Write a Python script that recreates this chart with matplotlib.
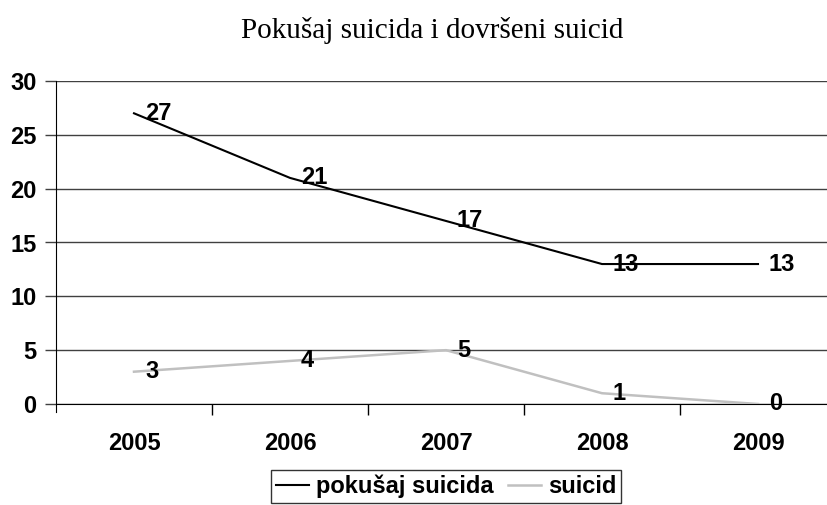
import matplotlib
matplotlib.use("Agg")
import matplotlib.pyplot as plt

years = ["2005", "2006", "2007", "2008", "2009"]
attempts = [27, 21, 17, 13, 13]
suicides = [3, 4, 5, 1, 0]
series_names = ["pokušaj suicida", "suicid"]
title = "Pokušaj suicida i dovršeni suicid"

W, H = 828, 505
FS = 17
fig = plt.figure(figsize=(W / 100, H / 100), dpi=100)
ax = fig.add_axes([56 / W, (H - 404) / H, (836 - 56) / W, (404 - 81) / H])

x = list(range(len(years)))
l1, = ax.plot(x, attempts, color="black", lw=1.5, zorder=3)
l2, = ax.plot(x, suicides, color="#c0c0c0", lw=1.8, zorder=3)

for xs, vals in ((x, attempts), (x, suicides)):
    for xi, v in zip(xs, vals):
        ax.annotate(str(v), (xi, v), xytext=(11, 0), textcoords="offset pixels",
                    ha="left", va="center", fontsize=FS, fontweight="bold",
                    family="Liberation Sans", zorder=5)

ax.set_xlim(-0.5, 4.5)
ax.set_ylim(0, 30)
ax.set_yticks(range(0, 31, 5))
ax.set_xticks(x)
ax.set_xticklabels(years)
ax.set_xticks([0.5, 1.5, 2.5, 3.5], minor=True)
ax.tick_params(axis="x", which="major", length=0, pad=20)
ax.tick_params(axis="x", which="minor", length=8, width=1, color="black", direction="out")
ax.tick_params(axis="y", length=8, width=1, color="#404040", direction="out", pad=6)
for lab in ax.get_xticklabels() + ax.get_yticklabels():
    lab.set_fontsize(FS)
    lab.set_fontweight("bold")
    lab.set_family("Liberation Sans")

ax.yaxis.grid(True, color="#404040", lw=1)
ax.set_axisbelow(True)
for s in ("top", "right"):
    ax.spines[s].set_visible(False)
ax.spines["left"].set_color("black")
ax.spines["bottom"].set_color("black")
ax.spines["left"].set_bounds(-0.7, 30)

fig.text(432 / W, 1 - 31 / H, title, ha="center", va="center", fontsize=21,
         family="Liberation Serif")

leg = fig.legend([l1, l2], series_names, loc="upper center",
                 bbox_to_anchor=(446 / W, 1 - 470 / H), ncol=2, frameon=True,
                 fancybox=False, edgecolor="black", handlelength=1.4,
                 handletextpad=0.3, columnspacing=0.6, borderpad=0.2,
                 borderaxespad=0.0,
                 prop={"family": "Liberation Sans", "weight": "bold", "size": FS})
leg.get_frame().set_linewidth(1)

fig.savefig("out.png", dpi=100)
